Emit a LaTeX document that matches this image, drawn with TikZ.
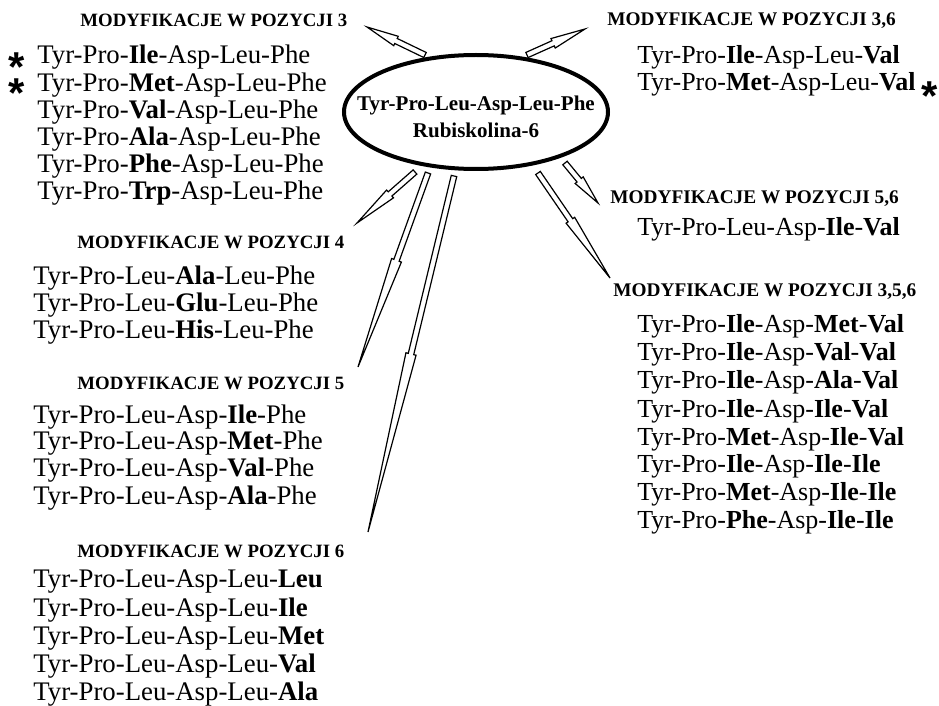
\documentclass[tikz,border=0pt]{standalone}
\usepackage{fontspec}
\setmainfont{Liberation Serif}
\newfontfamily\starfont{Liberation Sans}
\usetikzlibrary{shapes.geometric, calc}

\tikzset{
  seq/.style={anchor=base west, inner sep=0pt, font=\fontsize{13.4}{16}\selectfont},
  rseq/.style={seq, font=\fontsize{13}{16}\selectfont},
  headline/.style={anchor=base west, inner sep=0pt, font=\bfseries\fontsize{9.4}{11}\selectfont},
  rheadline/.style={headline, font=\bfseries\fontsize{9.65}{11}\selectfont},
  star/.style={anchor=base, inner sep=0pt, font=\starfont\bfseries\fontsize{11}{11}\selectfont},
  arrowline/.style={line width=0.6pt, fill=white},
}
\newcommand{\bigstar}{\scalebox{1.9}{*}}
% hollow wedge arrow: base, tip, position of the step
\newcommand{\hollowarrow}[3]{%
  \coordinate (hn) at ($(#1)!#3!(#2)$);
  \draw[arrowline] ($(#1)!1.4pt!90:(#2)$) -- ($(hn)!1.4pt!90:(#2)$) -- ($(hn)!2.6pt!90:(#2)$) -- (#2)
    -- ($(hn)!2.6pt!-90:(#2)$) -- ($(hn)!1.4pt!-90:(#2)$) -- ($(#1)!1.4pt!-90:(#2)$) -- cycle;
}

\begin{document}
\begin{tikzpicture}[x=0.5pt, y=-0.5pt]
  \useasboundingbox (0,0) rectangle (939,706);

  % central peptide
  \node[ellipse, draw, line width=2pt, minimum width=132pt, minimum height=57pt, inner sep=0pt] (rub) at (476,112) {};
  \node[align=center, inner sep=0pt, font=\bfseries\fontsize{10.5}{13.5}\selectfont] (rubtext) at (476,117) {Tyr-Pro-Leu-Asp-Leu-Phe\\Rubiskolina-6};

  % arrows
  \coordinate (b3) at (425,55);    \coordinate (t3) at (367,27);
  \coordinate (b36) at (527,55);   \coordinate (t36) at (585,29);
  \coordinate (b4) at (415,172);   \coordinate (t4) at (357,223);
  \coordinate (b5) at (428,173);   \coordinate (t5) at (358,367);
  \coordinate (b6) at (454,176);   \coordinate (t6) at (368,532);
  \coordinate (b56) at (565,163);  \coordinate (t56) at (598,203);
  \coordinate (b356) at (538,173); \coordinate (t356) at (610,278);
  \hollowarrow{b3}{t3}{0.5}
  \hollowarrow{b36}{t36}{0.45}
  \hollowarrow{b4}{t4}{0.43}
  \hollowarrow{b5}{t5}{0.45}
  \hollowarrow{b6}{t6}{0.5}
  \hollowarrow{b56}{t56}{0.43}
  \hollowarrow{b356}{t356}{0.45}

  % left column
  \node[headline] (h3) at (80,27) {MODYFIKACJE W POZYCJI 3};
  \foreach \s [count=\i from 0] in {Tyr-Pro-\textbf{Ile}-Asp-Leu-Phe, Tyr-Pro-\textbf{Met}-Asp-Leu-Phe,
      Tyr-Pro-\textbf{Val}-Asp-Leu-Phe, Tyr-Pro-\textbf{Ala}-Asp-Leu-Phe,
      Tyr-Pro-\textbf{Phe}-Asp-Leu-Phe, Tyr-Pro-\textbf{Trp}-Asp-Leu-Phe}
    \node[seq] (p3-\i) at (37,{64+27.2*\i}) {\s};
  \node[star] (s1) at (17,82) {\bigstar};
  \node[star] (s2) at (17,108) {\bigstar};

  \node[headline] (h4) at (77,249) {MODYFIKACJE W POZYCJI 4};
  \foreach \s [count=\i from 0] in {Tyr-Pro-Leu-\textbf{Ala}-Leu-Phe, Tyr-Pro-Leu-\textbf{Glu}-Leu-Phe,
      Tyr-Pro-Leu-\textbf{His}-Leu-Phe}
    \node[seq] (p4-\i) at (33,{285+27*\i}) {\s};

  \node[headline] (h5) at (77,390) {MODYFIKACJE W POZYCJI 5};
  \foreach \s [count=\i from 0] in {Tyr-Pro-Leu-Asp-\textbf{Ile}-Phe, Tyr-Pro-Leu-Asp-\textbf{Met}-Phe,
      Tyr-Pro-Leu-Asp-\textbf{Val}-Phe, Tyr-Pro-Leu-Asp-\textbf{Ala}-Phe}
    \node[seq] (p5-\i) at (33,{423+27*\i}) {\s};

  \node[headline] (h6) at (77,557) {MODYFIKACJE W POZYCJI 6};
  \foreach \s [count=\i from 0] in {Tyr-Pro-Leu-Asp-Leu-\textbf{Leu}, Tyr-Pro-Leu-Asp-Leu-\textbf{Ile},
      Tyr-Pro-Leu-Asp-Leu-\textbf{Met}, Tyr-Pro-Leu-Asp-Leu-\textbf{Val},
      Tyr-Pro-Leu-Asp-Leu-\textbf{Ala}}
    \node[seq] (p6-\i) at (33,{588+28*\i}) {\s};

  % right column
  \node[rheadline] (h36) at (607,26) {MODYFIKACJE W POZYCJI 3,6};
  \node[rseq] (p36-0) at (637,64) {Tyr-Pro-\textbf{Ile}-Asp-Leu-\textbf{Val}};
  \node[rseq] (p36-1) at (637,91) {Tyr-Pro-\textbf{Met}-Asp-Leu-\textbf{Val}};
  \node[star] (s3) at (930,111) {\bigstar};

  \node[rheadline] (h56) at (610,204) {MODYFIKACJE W POZYCJI 5,6};
  \node[rseq] (p56-0) at (637,236) {Tyr-Pro-Leu-Asp-\textbf{Ile}-\textbf{Val}};

  \node[rheadline] (h356) at (613,297) {MODYFIKACJE W POZYCJI 3,5,6};
  \foreach \s [count=\i from 0] in {Tyr-Pro-\textbf{Ile}-Asp-\textbf{Met}-\textbf{Val}, Tyr-Pro-\textbf{Ile}-Asp-\textbf{Val}-\textbf{Val},
      Tyr-Pro-\textbf{Ile}-Asp-\textbf{Ala}-\textbf{Val}, Tyr-Pro-\textbf{Ile}-Asp-\textbf{Ile}-\textbf{Val},
      Tyr-Pro-\textbf{Met}-Asp-\textbf{Ile}-\textbf{Val}, Tyr-Pro-\textbf{Ile}-Asp-\textbf{Ile}-\textbf{Ile},
      Tyr-Pro-\textbf{Met}-Asp-\textbf{Ile}-\textbf{Ile}, Tyr-Pro-\textbf{Phe}-Asp-\textbf{Ile}-\textbf{Ile}}
    \node[rseq] (p356-\i) at (637,{333+28*\i}) {\s};
\end{tikzpicture}
\end{document}
